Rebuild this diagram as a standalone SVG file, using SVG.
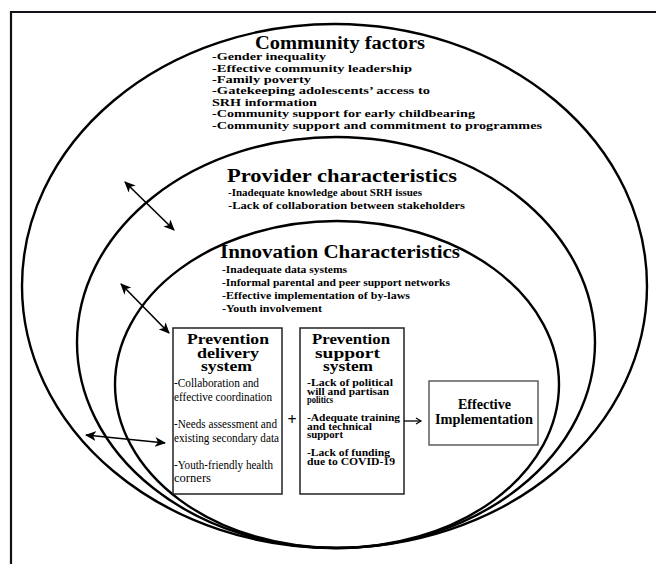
<svg xmlns="http://www.w3.org/2000/svg" width="656" height="564" viewBox="0 0 656 564">
<style>
.bg{fill:#ffffff}
.frame{fill:none;stroke:#111118;stroke-width:2.2}
.ell{fill:none;stroke:#000;stroke-width:2.4}
.box{fill:#fff;stroke:#222;stroke-width:1.5}
.ebox{fill:#fff;stroke:#444;stroke-width:1.3}
.t{font-family:"Liberation Serif","Times New Roman",serif;fill:#000}
.h1{font-size:18px;font-weight:bold}
.h2{font-size:15px;font-weight:bold}
.li{font-size:11px;font-weight:bold}
.bd{font-size:12px}
.b2{font-size:9.5px;font-weight:bold}
.ei{font-size:14px;font-weight:bold}
.arr{fill:none;stroke:#000;stroke-width:1.6}
.sarr{fill:none;stroke:#000;stroke-width:1.3}
</style>
<defs>
<marker id="ah" markerUnits="userSpaceOnUse" markerWidth="12" markerHeight="10" refX="10" refY="5" orient="auto-start-reverse" viewBox="0 0 12 10">
<path d="M0,0 L11,5 L0,10 L3,5 z" fill="#000"/>
</marker>
<marker id="oh" markerUnits="userSpaceOnUse" markerWidth="8" markerHeight="8" refX="6" refY="4" orient="auto" viewBox="0 0 8 8">
<path d="M1,1 L6,4 L1,7" fill="none" stroke="#000" stroke-width="1.2"/>
</marker>
</defs>
<rect class="bg" x="0" y="0" width="656" height="564"/>
<path class="frame" d="M11,564 L11,12 L656,12"/>

<g id="community">
<ellipse class="ell" cx="334.5" cy="286" rx="312.5" ry="262"/>
<text class="t h1" x="255" y="49" textLength="170" lengthAdjust="spacingAndGlyphs">Community factors</text>
<text class="t li" x="212" y="60" textLength="114" lengthAdjust="spacingAndGlyphs">-Gender inequality</text>
<text class="t li" x="212" y="72" textLength="200" lengthAdjust="spacingAndGlyphs">-Effective community leadership</text>
<text class="t li" x="212" y="83" textLength="99" lengthAdjust="spacingAndGlyphs">-Family poverty</text>
<text class="t li" x="212" y="94" textLength="218" lengthAdjust="spacingAndGlyphs">-Gatekeeping adolescents’ access to</text>
<text class="t li" x="212" y="106" textLength="105" lengthAdjust="spacingAndGlyphs">SRH information</text>
<text class="t li" x="212" y="117" textLength="263" lengthAdjust="spacingAndGlyphs">-Community support for early childbearing</text>
<text class="t li" x="212" y="129" textLength="330" lengthAdjust="spacingAndGlyphs">-Community support and commitment to programmes</text>
</g>

<g id="provider">
<ellipse class="ell" cx="336" cy="342.5" rx="259" ry="205.5"/>
<text class="t h1" x="227" y="182" textLength="230" lengthAdjust="spacingAndGlyphs">Provider characteristics</text>
<text class="t li" x="228" y="196" textLength="194" lengthAdjust="spacingAndGlyphs">-Inadequate knowledge about SRH issues</text>
<text class="t li" x="228" y="209" textLength="237" lengthAdjust="spacingAndGlyphs">-Lack of collaboration between stakeholders</text>
</g>

<g id="innovation">
<ellipse class="ell" cx="337" cy="384.5" rx="222" ry="163.5"/>
<text class="t h1" x="220" y="258" textLength="240" lengthAdjust="spacingAndGlyphs">Innovation Characteristics</text>
<text class="t li" x="222" y="273" textLength="125" lengthAdjust="spacingAndGlyphs">-Inadequate data systems</text>
<text class="t li" x="222" y="286" textLength="228" lengthAdjust="spacingAndGlyphs">-Informal parental and peer support networks</text>
<text class="t li" x="222" y="299" textLength="188" lengthAdjust="spacingAndGlyphs">-Effective implementation of by-laws</text>
<text class="t li" x="222" y="312" textLength="100" lengthAdjust="spacingAndGlyphs">-Youth involvement</text>
</g>

<g id="delivery">
<rect class="box" x="173" y="328" width="109" height="166"/>
<text class="t h2" x="187" y="344" textLength="82" lengthAdjust="spacingAndGlyphs">Prevention</text>
<text class="t h2" x="197" y="357.5" textLength="62" lengthAdjust="spacingAndGlyphs">delivery</text>
<text class="t h2" x="201" y="371" textLength="51" lengthAdjust="spacingAndGlyphs">system</text>
<text class="t bd" x="174" y="387" textLength="85" lengthAdjust="spacingAndGlyphs">-Collaboration and</text>
<text class="t bd" x="174" y="401" textLength="98" lengthAdjust="spacingAndGlyphs">effective coordination</text>
<text class="t bd" x="174" y="428" textLength="103" lengthAdjust="spacingAndGlyphs">-Needs assessment and</text>
<text class="t bd" x="174" y="442" textLength="105" lengthAdjust="spacingAndGlyphs">existing secondary data</text>
<text class="t bd" x="174" y="469" textLength="99" lengthAdjust="spacingAndGlyphs">-Youth-friendly health</text>
<text class="t bd" x="174" y="482" textLength="37" lengthAdjust="spacingAndGlyphs">corners</text>
</g>

<g id="plus">
<text class="t" x="292" y="425" font-size="16" font-weight="bold" text-anchor="middle">+</text>
</g>

<g id="support">
<rect class="box" x="300" y="328" width="104" height="166"/>
<text class="t h2" x="312" y="344" textLength="78" lengthAdjust="spacingAndGlyphs">Prevention</text>
<text class="t h2" x="315" y="357.5" textLength="65" lengthAdjust="spacingAndGlyphs">support</text>
<text class="t h2" x="323" y="371" textLength="50" lengthAdjust="spacingAndGlyphs">system</text>
<text class="t b2" x="307" y="386" textLength="86" lengthAdjust="spacingAndGlyphs">-Lack of political</text>
<text class="t b2" x="307" y="394.5" textLength="82" lengthAdjust="spacingAndGlyphs">will and partisan</text>
<text class="t b2" x="307" y="403" textLength="26" lengthAdjust="spacingAndGlyphs">politics</text>
<text class="t b2" x="307" y="421" textLength="93" lengthAdjust="spacingAndGlyphs">-Adequate training</text>
<text class="t b2" x="307" y="429.5" textLength="65" lengthAdjust="spacingAndGlyphs">and technical</text>
<text class="t b2" x="307" y="438" textLength="36" lengthAdjust="spacingAndGlyphs">support</text>
<text class="t b2" x="307" y="456" textLength="83" lengthAdjust="spacingAndGlyphs">-Lack of funding</text>
<text class="t b2" x="307" y="464.5" textLength="88" lengthAdjust="spacingAndGlyphs">due to COVID-19</text>
</g>

<g id="effective">
<rect class="ebox" x="429" y="381" width="109" height="64"/>
<text class="t ei" x="458" y="409" textLength="53" lengthAdjust="spacingAndGlyphs">Effective</text>
<text class="t ei" x="435" y="424" textLength="98" lengthAdjust="spacingAndGlyphs">Implementation</text>
</g>

<g id="connectors">
<line class="arr" x1="125" y1="182" x2="174" y2="230" marker-start="url(#ah)" marker-end="url(#ah)"/>
<line class="arr" x1="121" y1="284" x2="169" y2="333" marker-start="url(#ah)" marker-end="url(#ah)"/>
<line class="arr" x1="86" y1="435" x2="165" y2="443" marker-start="url(#ah)" marker-end="url(#ah)"/>
<line class="sarr" x1="404" y1="421" x2="421" y2="421" marker-end="url(#oh)"/>
</g>
</svg>
